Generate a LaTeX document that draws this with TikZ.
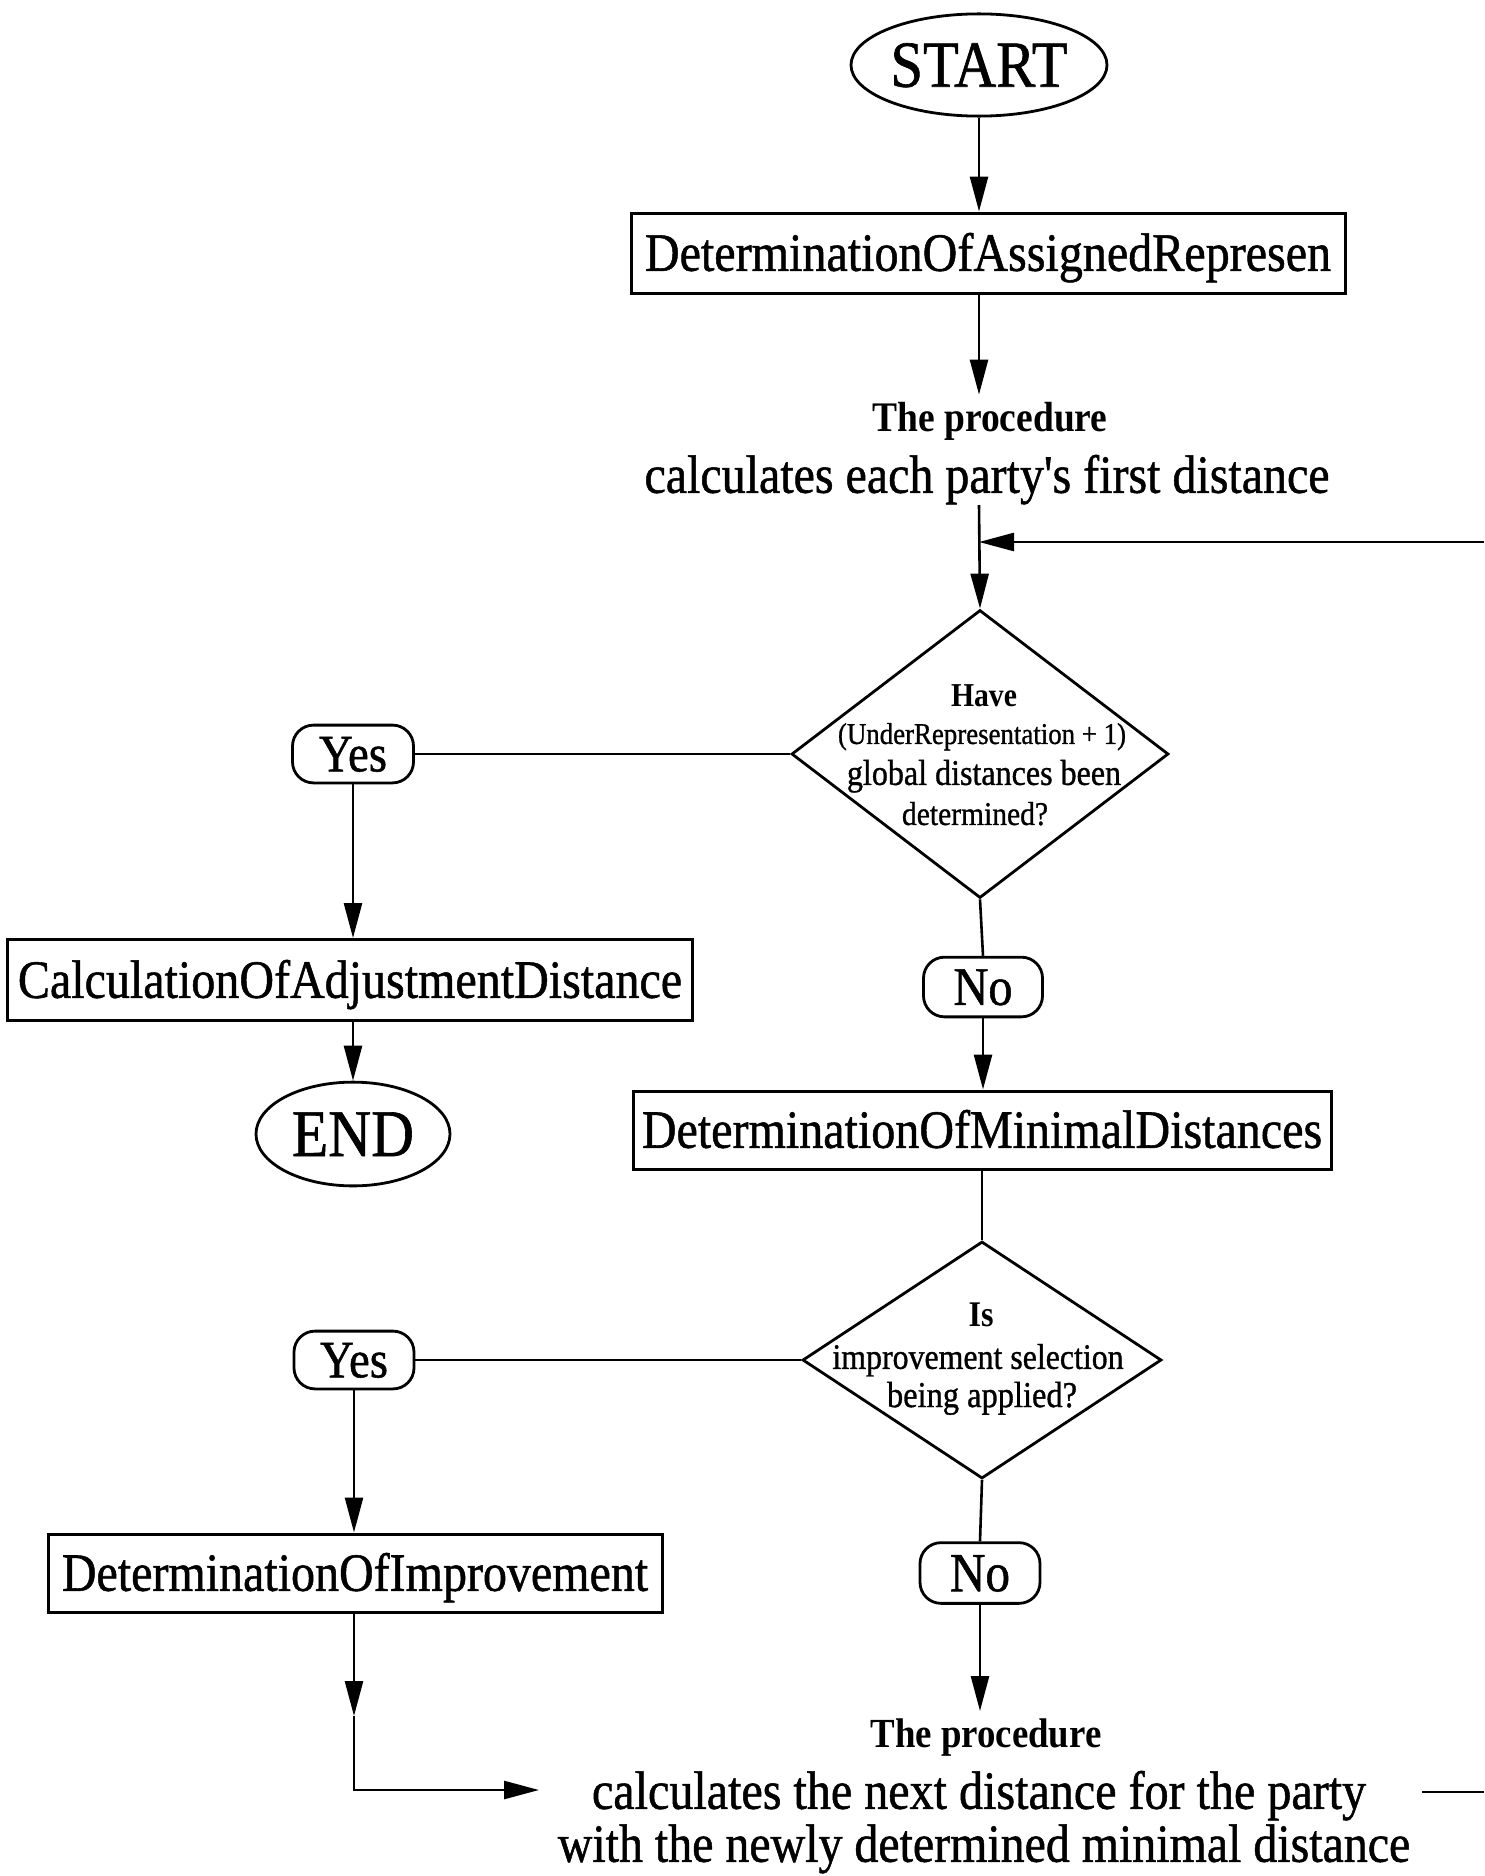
\documentclass[tikz,border=0pt]{standalone}
\usepackage{graphicx}
\usepackage{fontspec}
\setmainfont{Liberation Serif}[UprightFeatures={FakeBold=1}]
\usetikzlibrary{shapes.geometric,arrows.meta}
% set a text in a slightly condensed Times and scale it to a given width;
% the invisible rule fixes where the text sits inside its node
\newcommand\fitto[2]{\resizebox{#1pt}{!}{\scalebox{0.89}[1]{\rule[-0.22em]{0pt}{1.10em}#2}}}
\begin{document}
\begin{tikzpicture}[x=1pt,y=-1pt,
  term/.style={ellipse, draw, line width=2.8pt, inner sep=0pt},
  procbox/.style={rectangle, draw, line width=3pt, inner sep=0pt},
  decision/.style={diamond, draw, line width=2.8pt, inner sep=0pt},
  answer/.style={rectangle, rounded corners=21pt, draw, line width=2.8pt, inner sep=0pt},
  lbl/.style={inner sep=0pt},
  link/.style={line width=2.6pt},
  flow/.style={link, -{Triangle[length=35pt,width=18pt]}}]

\fill[white] (0,0) rectangle (1484,1876);
\path[use as bounding box] (0,0) rectangle (1484,1876);

% main column
\node[term, minimum width=256pt, minimum height=86pt] (start) at (979,65) {\fitto{177}{START}};
\node[procbox, minimum width=714pt, minimum height=80pt] (box1) at (988,253) {\fitto{686}{DeterminationOfAssignedRepresen}};
\node[lbl] (proc1) at (990,418) {\fitto{235}{\bfseries The procedure}};
\node[lbl] (calc1) at (987,475) {\fitto{685}{calculates each party\textquotesingle s first distance}};

\node[decision, minimum width=377pt, minimum height=288pt] (dia1) at (980,754) {};
\node[lbl] (d1a) at (984,695) {\fitto{66}{\bfseries Have}};
\node[lbl] (d1b) at (982,734) {\fitto{288}{(UnderRepresentation + 1)}};
\node[lbl] (d1c) at (984,773) {\fitto{274}{global distances been}};
\node[lbl] (d1d) at (975,814) {\fitto{146}{determined?}};

\node[answer, minimum width=121pt, minimum height=51pt] (yes1) at (353,754) {\fitto{68}{Yes}};
\node[procbox, minimum width=685pt, minimum height=81pt] (box2) at (350,980) {\fitto{664}{CalculationOfAdjustmentDistance}};
\node[term, minimum width=194pt, minimum height=70pt] (end) at (353,1134) {\fitto{122}{END}};

\node[answer, minimum width=119pt, minimum height=53pt] (no1) at (983,987) {\fitto{59}{No}};
\node[procbox, minimum width=698pt, minimum height=78pt] (box3) at (982,1130) {\fitto{680}{DeterminationOfMinimalDistances}};

\node[decision, minimum width=359pt, minimum height=237pt] (dia2) at (982,1360) {};
\node[lbl] (d2a) at (981,1315) {\fitto{25}{\bfseries Is}};
\node[lbl] (d2b) at (978,1357) {\fitto{291}{improvement selection}};
\node[lbl] (d2c) at (982,1395) {\fitto{190}{being applied?}};

\node[answer, minimum width=120pt, minimum height=53pt] (yes2) at (354,1360) {\fitto{68}{Yes}};
\node[procbox, minimum width=614pt, minimum height=78pt] (box4) at (355,1573) {\fitto{586}{DeterminationOfImprovement}};
\node[answer, minimum width=120pt, minimum height=54pt] (no2) at (980,1573) {\fitto{60}{No}};

\node[lbl] (proc2) at (986,1734) {\fitto{231}{\bfseries The procedure}};
\node[lbl] (calc2) at (979,1791) {\fitto{774}{calculates the next distance for the party}};
\node[lbl] (calc3) at (984,1844) {\fitto{852}{with the newly determined minimal distance}};

% free ends of connectors
\coordinate (resume) at (979,505);
\coordinate (loopin) at (1484,542);
\coordinate (tipL) at (354,1716);
\coordinate (bendL) at (354,1790);
\coordinate (inL) at (539,1790);
\coordinate (outR) at (1422,1792);
\coordinate (edgeR) at (1484,1792);

% connectors
\draw[flow] (start.south) -- (start.south |- box1.north);
\draw[flow] (start.south |- box1.south) -- (start.south |- proc1.north);
\draw[flow] (resume) -- (dia1.north);
\draw[flow] (loopin) -- (loopin -| resume);

\draw[link] (dia1.west) -- (yes1.east);
\draw[flow] (yes1.south) -- (yes1.south |- box2.north);
\draw[flow] (yes1.south |- box2.south) -- (end.north);

\draw[link] (dia1.south) -- (no1.north);
\draw[flow] (no1.south) -- (no1.south |- box3.north);
\draw[link] (dia2.north |- box3.south) -- (dia2.north);

\draw[link] (dia2.west) -- (yes2.east);
\draw[flow] (yes2.south) -- (yes2.south |- box4.north);
\draw[flow] (yes2.south |- box4.south) -- (tipL);
\draw[flow] (tipL) -- (bendL) -- (inL);

\draw[link] (dia2.south) -- (no2.north);
\draw[flow] (no2.south) -- (no2.south |- proc2.north);
\draw[link] (outR) -- (edgeR);
\end{tikzpicture}
\end{document}
